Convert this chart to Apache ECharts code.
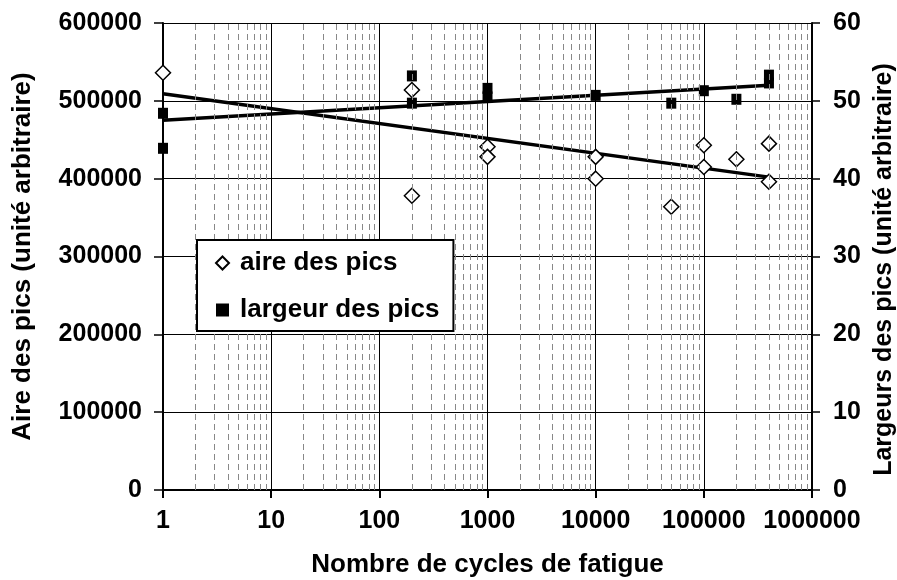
<!DOCTYPE html>
<html>
<head>
<meta charset="utf-8">
<script src="https://cdn.jsdelivr.net/npm/echarts@6/dist/echarts.min.js"></script>
<style>
  html, body { margin: 0; padding: 0; background: #fff; }
  #chart { width: 897px; height: 580px; }
</style>
</head>
<body>
<div id="chart"></div>
<script>
// aire des pics (axe gauche)
var aireCycles = [1, 200, 200, 1000, 1000, 10000, 10000, 50000, 100000, 100000, 200000, 400000, 400000];
var aireValues = [536000, 514000, 378000, 441000, 428000, 428000, 400000, 364000, 443000, 415000, 425000, 445000, 396000];

// largeur des pics (axe droit)
var largeurCycles = [1, 1, 200, 200, 1000, 1000, 10000, 50000, 100000, 200000, 400000, 400000];
var largeurValues = [48.4, 43.9, 53.2, 49.7, 51.6, 50.5, 50.7, 49.7, 51.3, 50.2, 53.3, 52.3];

// courbes de tendance (extrémités)
var trendCycles = [1, 400000];
var aireTrend = [509000, 402000];
var largeurTrend = [47.5, 52.0];

var xTicks = [1, 10, 100, 1000, 10000, 100000, 1000000];

function pairs(xs, ys) {
    return xs.map(function (x, i) { return [x, ys[i]]; });
}

// lignes secondaires 2..9 de chaque décade
var minorLines = [];
for (var d = 0; d < xTicks.length - 1; d++) {
    for (var k = 2; k <= 9; k++) {
        minorLines.push({ xAxis: k * xTicks[d] });
    }
}

var font = 'Liberation Sans, Arial, sans-serif';
var tickTxt = { color: '#000', fontFamily: font, fontWeight: 'bold', fontSize: 25 };
var nameTxt = { color: '#000', fontFamily: font, fontWeight: 'bold', fontSize: 26 };

var myChart = echarts.init(document.getElementById('chart'));
var option = {
    backgroundColor: '#fff',
    animation: false,
    grid: { left: 163, right: 85, top: 23, bottom: 90, containLabel: false, outerBoundsMode: 'none' },
    legend: {
        left: 197,
        top: 240,
        orient: 'vertical',
        backgroundColor: '#fff',
        borderColor: '#000',
        borderWidth: 2,
        borderRadius: 0,
        padding: [10, 14, 8, 18],
        itemGap: 21,
        itemWidth: 13,
        itemHeight: 13,
        textStyle: { color: '#000', fontFamily: font, fontWeight: 'bold', fontSize: 26, padding: [0, 0, 0, 6] },
        data: [
            { name: 'aire des pics', icon: 'diamond' },
            { name: 'largeur des pics', icon: 'rect', itemStyle: { color: '#000' } }
        ],
        z: 10
    },
    xAxis: {
        type: 'log',
        logBase: 10,
        min: 1,
        max: 1000000,
        name: 'Nombre de cycles de fatigue',
        nameLocation: 'middle',
        nameGap: 62,
        nameTextStyle: nameTxt,
        axisLine: { lineStyle: { color: '#000', width: 2 } },
        axisTick: { show: true, length: 8, lineStyle: { color: '#000', width: 2 } },
        axisLabel: Object.assign({ margin: 19, formatter: function (v) { return String(Math.round(v)); } }, tickTxt),
        splitLine: { show: true, lineStyle: { color: '#000', width: 1 } }
    },
    yAxis: [{
        type: 'value',
        min: 0,
        max: 600000,
        interval: 100000,
        name: 'Aire des pics (unité arbitraire)',
        nameLocation: 'middle',
        nameGap: 127,
        nameTextStyle: nameTxt,
        axisLine: { show: true, lineStyle: { color: '#000', width: 2 } },
        axisTick: { show: true, length: 9, lineStyle: { color: '#000', width: 1.5 } },
        axisLabel: Object.assign({ margin: 21, formatter: function (v) { return String(v); } }, tickTxt),
        splitLine: { show: true, lineStyle: { color: '#000', width: 1 } }
    }, {
        type: 'value',
        position: 'right',
        min: 0,
        max: 60,
        interval: 10,
        name: 'Largeurs des pics (unité arbitraire)',
        nameLocation: 'middle',
        nameGap: 56,
        nameRotate: 90,
        nameTextStyle: { color: '#000', fontFamily: font, fontWeight: 'bold', fontSize: 25, padding: [0, 26, 0, 0] },
        axisLine: { show: true, lineStyle: { color: '#000', width: 2 } },
        axisTick: { show: true, length: 8, lineStyle: { color: '#000', width: 1.5 } },
        axisLabel: Object.assign({ margin: 21 }, tickTxt),
        splitLine: { show: false }
    }],
    series: [
        {
            name: 'grille',
            type: 'line',
            data: [],
            silent: true,
            markLine: {
                silent: true,
                symbol: 'none',
                label: { show: false },
                lineStyle: { color: '#888', width: 1, type: [6, 4] },
                data: minorLines
            },
            z: 1
        },
        {
            name: 'tendance aire',
            type: 'line',
            data: pairs(trendCycles, aireTrend),
            symbol: 'none',
            lineStyle: { color: '#000', width: 3.5 },
            z: 3
        },
        {
            name: 'tendance largeur',
            type: 'line',
            yAxisIndex: 1,
            data: pairs(trendCycles, largeurTrend),
            symbol: 'none',
            lineStyle: { color: '#000', width: 3.5 },
            z: 3
        },
        {
            name: 'aire des pics',
            type: 'scatter',
            data: pairs(aireCycles, aireValues),
            symbol: 'diamond',
            symbolSize: 15,
            itemStyle: { color: '#fff', borderColor: '#000', borderWidth: 1.5, opacity: 1 },
            z: 4
        },
        {
            name: 'largeur des pics',
            type: 'scatter',
            yAxisIndex: 1,
            data: pairs(largeurCycles, largeurValues),
            symbol: 'rect',
            symbolSize: [10, 11],
            itemStyle: { color: '#000', opacity: 1 },
            z: 4
        }
    ]
};
myChart.setOption(option);
</script>
</body>
</html>
